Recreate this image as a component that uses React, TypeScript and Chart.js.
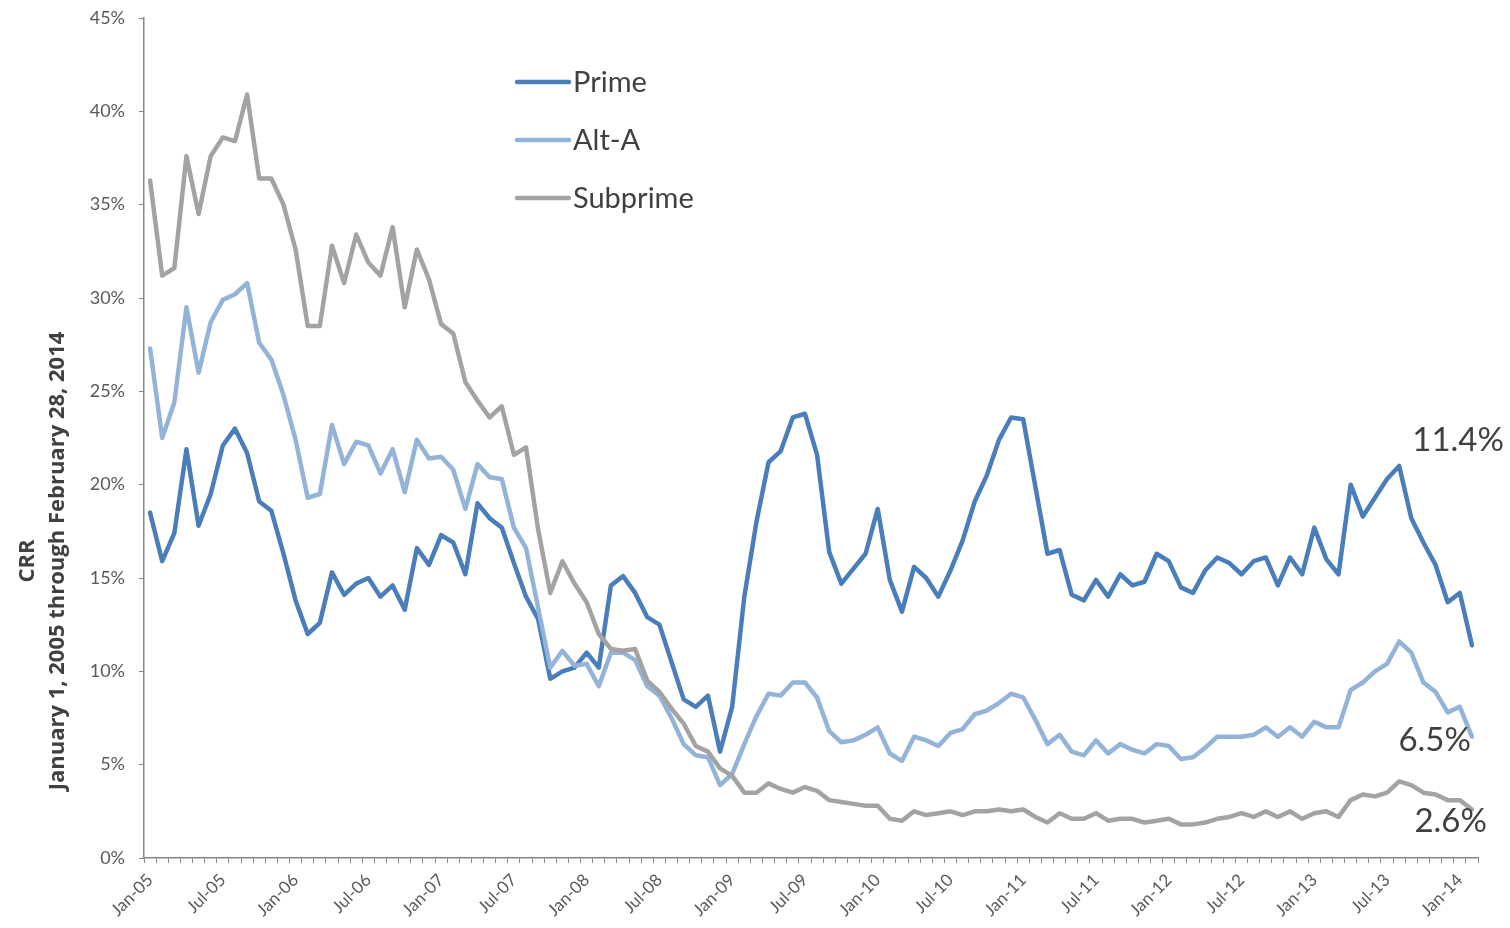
import React, { useEffect, useRef } from "react";
import { Chart, registerables } from "chart.js";

Chart.register(...registerables);

const MONTH_NAMES = ["Jan", "Feb", "Mar", "Apr", "May", "Jun", "Jul", "Aug", "Sep", "Oct", "Nov", "Dec"];
const MONTH_COUNT = 110; // Jan-05 .. Feb-14
const categories: string[] = Array.from({ length: MONTH_COUNT }, (_, i) =>
  `${MONTH_NAMES[i % 12]}-${String(5 + Math.floor(i / 12)).padStart(2, "0")}`
);

const seriesNames = ["Prime", "Alt-A", "Subprime"];

const primeValues = [
  18.5, 15.9, 17.4, 21.9, 17.8, 19.5, 22.1, 23.0, 21.7, 19.1,
  18.6, 16.3, 13.8, 12.0, 12.6, 15.3, 14.1, 14.7, 15.0, 14.0,
  14.6, 13.3, 16.6, 15.7, 17.3, 16.9, 15.2, 19.0, 18.2, 17.7,
  15.8, 14.0, 12.8, 9.6, 10.0, 10.2, 11.0, 10.2, 14.6, 15.1,
  14.2, 12.9, 12.5, 10.5, 8.5, 8.1, 8.7, 5.7, 8.1, 14.0,
  18.0, 21.2, 21.8, 23.6, 23.8, 21.6, 16.4, 14.7, 15.5, 16.3,
  18.7, 14.9, 13.2, 15.6, 15.0, 14.0, 15.4, 17.0, 19.1, 20.5,
  22.4, 23.6, 23.5, 19.9, 16.3, 16.5, 14.1, 13.8, 14.9, 14.0,
  15.2, 14.6, 14.8, 16.3, 15.9, 14.5, 14.2, 15.4, 16.1, 15.8,
  15.2, 15.9, 16.1, 14.6, 16.1, 15.2, 17.7, 16.0, 15.2, 20.0,
  18.3, 19.3, 20.3, 21.0, 18.2, 16.9, 15.7, 13.7, 14.2, 11.4,
];

const altAValues = [
  27.3, 22.5, 24.4, 29.5, 26.0, 28.7, 29.9, 30.2, 30.8, 27.6,
  26.7, 24.8, 22.4, 19.3, 19.5, 23.2, 21.1, 22.3, 22.1, 20.6,
  21.9, 19.6, 22.4, 21.4, 21.5, 20.8, 18.7, 21.1, 20.4, 20.3,
  17.7, 16.6, 13.4, 10.2, 11.1, 10.3, 10.4, 9.2, 11.0, 11.0,
  10.6, 9.2, 8.7, 7.5, 6.1, 5.5, 5.4, 3.9, 4.5, 6.1,
  7.6, 8.8, 8.7, 9.4, 9.4, 8.6, 6.8, 6.2, 6.3, 6.6,
  7.0, 5.6, 5.2, 6.5, 6.3, 6.0, 6.7, 6.9, 7.7, 7.9,
  8.3, 8.8, 8.6, 7.4, 6.1, 6.6, 5.7, 5.5, 6.3, 5.6,
  6.1, 5.8, 5.6, 6.1, 6.0, 5.3, 5.4, 5.9, 6.5, 6.5,
  6.5, 6.6, 7.0, 6.5, 7.0, 6.5, 7.3, 7.0, 7.0, 9.0,
  9.4, 10.0, 10.4, 11.6, 11.0, 9.4, 8.9, 7.8, 8.1, 6.5,
];

const subprimeValues = [
  36.3, 31.2, 31.6, 37.6, 34.5, 37.6, 38.6, 38.4, 40.9, 36.4,
  36.4, 35.0, 32.6, 28.5, 28.5, 32.8, 30.8, 33.4, 31.9, 31.2,
  33.8, 29.5, 32.6, 31.0, 28.6, 28.1, 25.5, 24.5, 23.6, 24.2,
  21.6, 22.0, 17.6, 14.2, 15.9, 14.7, 13.7, 12.0, 11.2, 11.1,
  11.2, 9.5, 8.9, 8.0, 7.2, 6.0, 5.7, 4.8, 4.4, 3.5,
  3.5, 4.0, 3.7, 3.5, 3.8, 3.6, 3.1, 3.0, 2.9, 2.8,
  2.8, 2.1, 2.0, 2.5, 2.3, 2.4, 2.5, 2.3, 2.5, 2.5,
  2.6, 2.5, 2.6, 2.2, 1.9, 2.4, 2.1, 2.1, 2.4, 2.0,
  2.1, 2.1, 1.9, 2.0, 2.1, 1.8, 1.8, 1.9, 2.1, 2.2,
  2.4, 2.2, 2.5, 2.2, 2.5, 2.1, 2.4, 2.5, 2.2, 3.1,
  3.4, 3.3, 3.5, 4.1, 3.9, 3.5, 3.4, 3.1, 3.1, 2.6,
];

const yTicks = [0, 5, 10, 15, 20, 25, 30, 35, 40, 45];
const yTitleLines = ["CRR", "January 1, 2005 through February 28, 2014"];

const COLORS = ["#4a7ebb", "#93b3d9", "#a3a3a3"];
const FONT = "Lato, 'Open Sans', 'DejaVu Sans', sans-serif";
const TITLE_FONT = "'Open Sans', Lato, 'DejaVu Sans', sans-serif";
const TEXT_DARK = "#404040";
const AXIS_GRAY = "#868686";

const overlayPlugin = {
  id: "overlay",
  afterDraw(chart: any) {
    const ctx = chart.ctx as CanvasRenderingContext2D;
    // Y axis title (two lines)
    ctx.save();
    ctx.fillStyle = TEXT_DARK;
    ctx.font = `bold 22px ${TITLE_FONT}`;
    ctx.textAlign = "center";
    ctx.textBaseline = "middle";
    const titleXs = [28, 58];
    yTitleLines.forEach((line, i) => {
      ctx.save();
      ctx.translate(titleXs[i], 561);
      ctx.rotate(-Math.PI / 2);
      ctx.fillText(line, 0, 0);
      ctx.restore();
    });
    ctx.restore();

    // Legend inside plot
    ctx.save();
    chart.data.datasets.forEach((ds: any, i: number) => {
      const y = 82 + 58 * i;
      ctx.strokeStyle = ds.borderColor;
      ctx.lineWidth = 4.5;
      ctx.lineCap = "round";
      ctx.beginPath();
      ctx.moveTo(517, y);
      ctx.lineTo(569, y);
      ctx.stroke();
      ctx.fillStyle = TEXT_DARK;
      ctx.font = `29px ${FONT}`;
      ctx.textAlign = "left";
      ctx.textBaseline = "middle";
      ctx.fillText(ds.label, 573, y + 1);
    });
    ctx.restore();

    // End-value labels
    const offsets = [
      { dx: 32, dy: -205 },
      { dx: -1, dy: 4 },
      { dx: 15, dy: 12 },
    ];
    ctx.save();
    ctx.fillStyle = TEXT_DARK;
    ctx.font = `33px ${FONT}`;
    ctx.textAlign = "right";
    ctx.textBaseline = "middle";
    chart.data.datasets.forEach((ds: any, i: number) => {
      const meta = chart.getDatasetMeta(i);
      const last = meta.data[meta.data.length - 1];
      const v = ds.data[ds.data.length - 1];
      ctx.fillText(`${v.toFixed(1)}%`, last.x + offsets[i].dx, last.y + offsets[i].dy);
    });
    ctx.restore();
  },
};

export default function App() {
  const canvasRef = useRef<HTMLCanvasElement | null>(null);

  useEffect(() => {
    if (!canvasRef.current) return;
    const seriesValues = [primeValues, altAValues, subprimeValues];
    const chart = new Chart(canvasRef.current, {
      type: "line",
      data: {
        labels: categories,
        datasets: seriesNames.map((name, i) => ({
          label: name,
          data: seriesValues[i],
          borderColor: COLORS[i],
          backgroundColor: COLORS[i],
          borderWidth: 4.5,
          pointRadius: 0,
          tension: 0,
          borderJoinStyle: "round" as const,
          borderCapStyle: "round" as const,
          fill: false,
          order: 2 - i,
        })),
      },
      options: {
        animation: false,
        responsive: true,
        maintainAspectRatio: false,
        layout: { padding: { top: 18, right: 32, left: 0, bottom: 0 } },
        plugins: {
          legend: { display: false },
          tooltip: { enabled: false },
          title: { display: false },
        },
        scales: {
          x: {
            type: "category",
            offset: true,
            border: { color: AXIS_GRAY, width: 1.5 },
            grid: {
              offset: true,
              drawOnChartArea: false,
              color: AXIS_GRAY,
              tickLength: 5,
              lineWidth: 1,
            },
            ticks: {
              autoSkip: false,
              minRotation: 45,
              maxRotation: 45,
              color: "#595959",
              font: { family: FONT, size: 17 },
              padding: 7,
              callback: function (this: any, value: any, index: number) {
                return index % 6 === 0 ? categories[index] : "";
              },
            },
            afterFit: (scale: any) => {
              scale.height = 70;
              scale.paddingLeft = 0;
              scale.paddingRight = 0;
            },
          },
          y: {
            min: 0,
            max: 45,
            border: { color: AXIS_GRAY, width: 1.5 },
            grid: {
              drawOnChartArea: false,
              color: AXIS_GRAY,
              tickLength: 5,
            },
            afterBuildTicks: (scale: any) => {
              scale.ticks = yTicks.map((v) => ({ value: v }));
            },
            ticks: {
              color: "#595959",
              font: { family: FONT, size: 18 },
              padding: 14,
              callback: (v: any) => `${v}%`,
            },
            afterFit: (scale: any) => {
              scale.width = 144;
              scale.paddingTop = 0;
              scale.paddingBottom = 0;
            },
          },
        },
      },
      plugins: [overlayPlugin],
    });
    return () => chart.destroy();
  }, []);

  return (
    <div
      style={{
        position: "fixed",
        left: 0,
        top: 0,
        width: 1510,
        height: 928,
        background: "#ffffff",
      }}
    >
      <canvas ref={canvasRef} />
    </div>
  );
}
